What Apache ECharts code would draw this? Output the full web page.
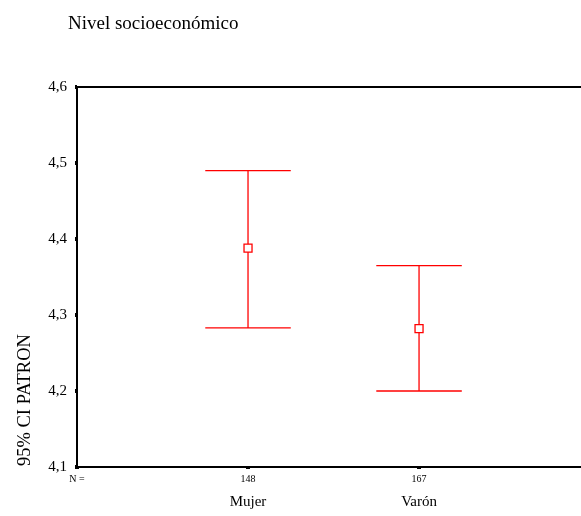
<!DOCTYPE html>
<html>
<head>
<meta charset="utf-8">
<script src="https://cdn.jsdelivr.net/npm/echarts@6/dist/echarts.min.js"></script>
<style>
  html, body { margin: 0; padding: 0; background: #fff; }
  #chart { width: 581px; height: 516px; }
</style>
</head>
<body>
<div id="chart"></div>
<script>
var categories = ['Mujer', 'Varón'];
var nCounts = [148, 167];
var means = [4.388, 4.282];
var lowerCI = [4.283, 4.200];
var upperCI = [4.490, 4.365];
var yTicks = [4.1, 4.2, 4.3, 4.4, 4.5, 4.6];
var xTicks = [0, 1, 2];

var fontFam = '"Liberation Serif", "DejaVu Serif", serif';
var red = '#ff0000';

var barData = [];
var meanData = [];
for (var i = 0; i < categories.length; i++) {
    barData.push([i + 1, lowerCI[i], upperCI[i]]);
    meanData.push([i + 1, means[i]]);
}

var myChart = echarts.init(document.getElementById('chart'));

var option = {
    animation: false,
    backgroundColor: '#fff',
    title: {
        text: 'Nivel socioeconómico',
        left: 63,
        top: 10,
        textStyle: { fontFamily: fontFam, fontSize: 19, fontWeight: 'normal', color: '#000' }
    },
    grid: { left: 77, top: 87, bottom: 49, right: 0 },
    xAxis: [{
        type: 'value',
        min: 0,
        max: 2.947,
        splitLine: { show: false },
        axisLine: { lineStyle: { color: '#000', width: 2 } },
        axisTick: { length: 2, customValues: xTicks, lineStyle: { color: '#000', width: 4 } },
        axisLabel: {
            margin: 6,
            customValues: xTicks,
            formatter: function (v) {
                if (v === 0) return '{n|N =}';
                var k = Math.round(v) - 1;
                if (k >= 0 && k < categories.length) {
                    return '{n|' + nCounts[k] + '}\n{c|' + categories[k] + '}';
                }
                return '';
            },
            rich: {
                n: { fontFamily: fontFam, fontSize: 10, lineHeight: 12, color: '#000' },
                c: { fontFamily: fontFam, fontSize: 15, lineHeight: 34, color: '#000' }
            }
        }
    }, {
        type: 'value',
        position: 'top',
        min: 0,
        max: 2.947,
        axisLine: { show: true, onZero: false, lineStyle: { color: '#000', width: 2 } },
        axisTick: { show: false },
        axisLabel: { show: false },
        splitLine: { show: false }
    }],
    yAxis: {
        type: 'value',
        min: yTicks[0],
        max: yTicks[yTicks.length - 1],
        interval: 0.1,
        splitLine: { show: false },
        axisLine: { show: true, lineStyle: { color: '#000', width: 2 } },
        axisTick: { show: true, length: 2, lineStyle: { color: '#000', width: 4 } },
        axisLabel: {
            margin: 10,
            color: '#000',
            fontFamily: fontFam,
            fontSize: 15,
            formatter: function (v) { return v.toFixed(1).replace('.', ','); }
        }
    },
    graphic: [{
        type: 'text',
        x: 25,
        y: 466,
        rotation: Math.PI / 2,
        style: {
            text: '95% CI PATRON',
            fontFamily: fontFam,
            fontSize: 18.5,
            fill: '#000',
            align: 'left',
            verticalAlign: 'middle'
        }
    }],
    series: [{
        type: 'custom',
        data: barData,
        renderItem: function (params, api) {
            var x = api.value(0);
            var lo = api.coord([x, api.value(1)]);
            var hi = api.coord([x, api.value(2)]);
            var half = api.size([0.25, 0])[0];
            var st = { stroke: red, lineWidth: 1.3 };
            return {
                type: 'group',
                children: [
                    { type: 'line', shape: { x1: lo[0], y1: lo[1], x2: hi[0], y2: hi[1] }, style: st },
                    { type: 'line', shape: { x1: hi[0] - half, y1: hi[1], x2: hi[0] + half, y2: hi[1] }, style: st },
                    { type: 'line', shape: { x1: lo[0] - half, y1: lo[1], x2: lo[0] + half, y2: lo[1] }, style: st }
                ]
            };
        },
        z: 2
    }, {
        type: 'scatter',
        data: meanData,
        symbol: 'rect',
        symbolSize: 8,
        itemStyle: { color: '#fff', borderColor: red, borderWidth: 1.3, opacity: 1 },
        z: 3
    }]
};

if (option)
    myChart.setOption(option);
</script>
</body>
</html>
